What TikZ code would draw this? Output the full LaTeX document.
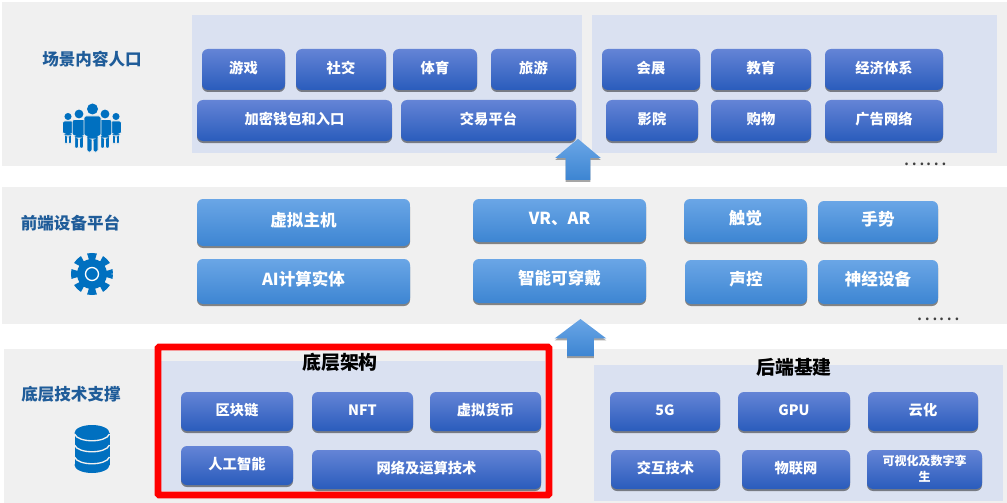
\documentclass[tikz,border=0pt]{standalone}
\usepackage{fontspec}
\setmainfont{Noto Sans CJK SC}
\usetikzlibrary{shadows,shapes.arrows}
\definecolor{bandgray}{HTML}{F0F0F0}
\definecolor{panelblue}{HTML}{DAE1F1}
\definecolor{titleblue}{HTML}{1F5C99}
\definecolor{iconblue}{HTML}{0070C0}
\definecolor{darktop}{HTML}{6484D6}
\definecolor{darkmid}{HTML}{3F6ECE}
\definecolor{darkbot}{HTML}{2A5CBC}
\definecolor{lighttop}{HTML}{6AA6E6}
\definecolor{lightmid}{HTML}{4F97E2}
\definecolor{lightbot}{HTML}{3D85D2}
\tikzset{
  band/.style={fill=bandgray, draw=none},
  panel/.style={fill=panelblue, draw=none},
  boxbase/.style={rounded corners=4.5pt, inner sep=0pt, align=center, text=white,
    text height=.68em, text depth=.12em,
    drop shadow={shadow xshift=0pt, shadow yshift=-1.5pt, fill=black, opacity=.45}},
  darkbox/.style={boxbase, font=\fontsize{10.7}{12}\selectfont\bfseries,
    top color=darktop, middle color=darkmid, bottom color=darkbot},
  lightbox/.style={boxbase, font=\fontsize{12.4}{14}\selectfont\bfseries,
    top color=lighttop, middle color=lightmid, bottom color=lightbot},
  steplabel/.style={text=titleblue, font=\fontsize{12.4}{14}\selectfont\bfseries},
  grouplabel/.style={text=black, font=\fontsize{14.2}{16}\selectfont\bfseries},
  moredots/.style={inner sep=0pt, text=black!75, font=\fontsize{15.4}{18}\selectfont},
  upshape/.style={single arrow, shape border rotate=90, draw=none,
    single arrow head indent=0pt,
    top color=lighttop, middle color=lightmid, bottom color=lightbot,
    drop shadow={shadow xshift=0pt, shadow yshift=-1.5pt, fill=black, opacity=.35}},
  person/.pic={
    \fill [iconblue] (0,0) circle [radius=5.5];
    \fill [iconblue, draw=bandgray, line width=.6pt, rounded corners=1.5pt]
      (-8.5,7) -- (8.5,7) -- (8.5,27) -- (5.5,27) -- (5.5,43) -- (.6,43) -- (.6,30)
      -- (-.6,30) -- (-.6,43) -- (-5.5,43) -- (-5.5,27) -- (-8.5,27) -- cycle;
  }
}
\begin{document}
\begin{tikzpicture}[x=.75pt, y=-.75pt]
	\useasboundingbox (0,0) rectangle (1007,503);
	% bands
	\fill [band] (2,2) rectangle (1007,166);
	\fill [band] (2,187) rectangle (1007,324);
	\fill [band] (4,349) rectangle (1007,503);
	% panels
	\fill [panel] (192,15) rectangle (582,153);
	\fill [panel] (592,15) rectangle (997,153);
	\fill [panel] (161,361) rectangle (545,491);
	\fill [panel] (594,365) rectangle (1003,501);
	% row labels
	\node [steplabel] (sceneLabel) at (92,59) {场景内容人口};
	\node [steplabel] (deviceLabel) at (70.5,223) {前端设备平台};
	\node [steplabel] (baseLabel) at (71,394) {底层技术支撑};
	% scene boxes
	\node [darkbox, minimum width=83*.75pt, minimum height=41*.75pt] (game) at (243.5,69.5) {游戏};
	\node [darkbox, minimum width=90*.75pt, minimum height=41*.75pt] (social) at (341,69.5) {社交};
	\node [darkbox, minimum width=84*.75pt, minimum height=41*.75pt] (sport) at (435,69.5) {体育};
	\node [darkbox, minimum width=85*.75pt, minimum height=41*.75pt] (travel) at (533.5,69.5) {旅游};
	\node [darkbox, minimum width=195*.75pt, minimum height=41*.75pt] (wallet) at (294.5,120.5) {加密钱包和入口};
	\node [darkbox, minimum width=175*.75pt, minimum height=41*.75pt] (trade) at (488.5,120.5) {交易平台};
	\node [darkbox, minimum width=98*.75pt, minimum height=41*.75pt] (expo) at (651,69.5) {会展};
	\node [darkbox, minimum width=100*.75pt, minimum height=41*.75pt] (edu) at (761,69.5) {教育};
	\node [darkbox, minimum width=118*.75pt, minimum height=41*.75pt] (econ) at (884,69.5) {经济体系};
	\node [darkbox, minimum width=92*.75pt, minimum height=41*.75pt] (cinema) at (652,120.5) {影院};
	\node [darkbox, minimum width=100*.75pt, minimum height=41*.75pt] (shop) at (761,120.5) {购物};
	\node [darkbox, minimum width=118*.75pt, minimum height=41*.75pt] (ads) at (884,120.5) {广告网络};
	\node [moredots] (moreTop) at (925,164) {……};
	% device boxes
	\node [lightbox, minimum width=213*.75pt, minimum height=47*.75pt] (console) at (303.5,222.5) {虚拟主机};
	\node [lightbox, minimum width=173*.75pt, minimum height=43*.75pt] (vr) at (559.5,220.5) {VR、AR};
	\node [lightbox, minimum width=123*.75pt, minimum height=43*.75pt] (touch) at (745.5,220.5) {触觉};
	\node [lightbox, minimum width=120*.75pt, minimum height=41*.75pt] (gesture) at (878,221.5) {手势};
	\node [lightbox, minimum width=213*.75pt, minimum height=45*.75pt] (aibody) at (303.5,281.5) {AI计算实体};
	\node [lightbox, minimum width=173*.75pt, minimum height=44*.75pt] (wear) at (559.5,281) {智能可穿戴};
	\node [lightbox, minimum width=122*.75pt, minimum height=44*.75pt] (voice) at (746,282) {声控};
	\node [lightbox, minimum width=120*.75pt, minimum height=44*.75pt] (neural) at (878,282) {神经设备};
	\node [moredots] (moreMid) at (938,319) {……};
	% base boxes
	\node [grouplabel] (infra) at (340,362) {底层架构};
	\node [grouplabel] (backend) at (794,367) {后端基建};
	\node [darkbox, minimum width=112*.75pt, minimum height=39*.75pt] (chain) at (237,411.5) {区块链};
	\node [darkbox, minimum width=101*.75pt, minimum height=39*.75pt] (nft) at (362.5,411.5) {NFT};
	\node [darkbox, minimum width=111*.75pt, minimum height=39*.75pt] (coin) at (485.5,411.5) {虚拟货币};
	\node [darkbox, minimum width=112*.75pt, minimum height=39*.75pt] (ai) at (237,465.5) {人工智能};
	\node [darkbox, minimum width=229*.75pt, minimum height=39*.75pt] (net) at (426.5,469.5) {网络及运算技术};
	\node [darkbox, minimum width=110*.75pt, minimum height=39*.75pt] (fiveg) at (665,411.5) {5G};
	\node [darkbox, minimum width=112*.75pt, minimum height=39*.75pt] (gpu) at (794,411.5) {GPU};
	\node [darkbox, minimum width=110*.75pt, minimum height=39*.75pt] (cloud) at (923,411.5) {云化};
	\node [darkbox, minimum width=109*.75pt, minimum height=39*.75pt] (inter) at (665.5,469.5) {交互技术};
	\node [darkbox, minimum width=108*.75pt, minimum height=39*.75pt] (iot) at (796,469.5) {物联网};
	\node [darkbox, minimum width=115*.75pt, minimum height=39*.75pt, text height=2em, text depth=.16em,
	  font=\fontsize{9}{12}\selectfont\bfseries] (twin) at (924.5,469.5) {可视化及数字孪\\生};
	% arrows
	\node [upshape, inner sep=9pt, single arrow head extend=7.9pt, single arrow tip angle=100,
	  minimum height=41*.75pt] (upTop) at (578,164.5) {};
	\node [upshape, inner sep=9.75pt, single arrow head extend=9.4pt, single arrow tip angle=106,
	  minimum height=37*.75pt] (upMid) at (580.5,342.5) {};
	% red frame
	\draw [red, line width=5.2pt, rounded corners=1pt] (158,347) rectangle (549,495);
	% people icon
	\pic [scale=.64] at (68,116.5) {person={}};
	\pic [scale=.64] at (116,116.5) {person={}};
	\pic [scale=.8] at (79,114) {person={}};
	\pic [scale=.8] at (105,114) {person={}};
	\pic at (92.5,109) {person={}};
	% gear icon
	\fill [iconblue] (92,274) circle [radius=15];
	\draw [iconblue, line width=6pt, dash pattern=on 5.6pt off 4.4pt, dash phase=2.8pt] (92,274) circle [radius=17];
	\draw [white, line width=1pt] (92,274) circle [radius=6.5];
	% database icon
	\fill [iconblue] (92,433) ellipse [x radius=17.5, y radius=8];
	\fill [iconblue] (74.5,433) rectangle (109.5,465);
	\fill [iconblue] (92,465) ellipse [x radius=17.5, y radius=8];
	\draw [bandgray, line width=1pt] (74.5,434) .. controls (78,443) and (106,443) .. (109.5,434);
	\draw [bandgray, line width=1pt] (74.5,445) .. controls (78,454) and (106,454) .. (109.5,445);
	\draw [bandgray, line width=1pt] (74.5,457) .. controls (78,466) and (106,466) .. (109.5,457);
\end{tikzpicture}
\end{document}
